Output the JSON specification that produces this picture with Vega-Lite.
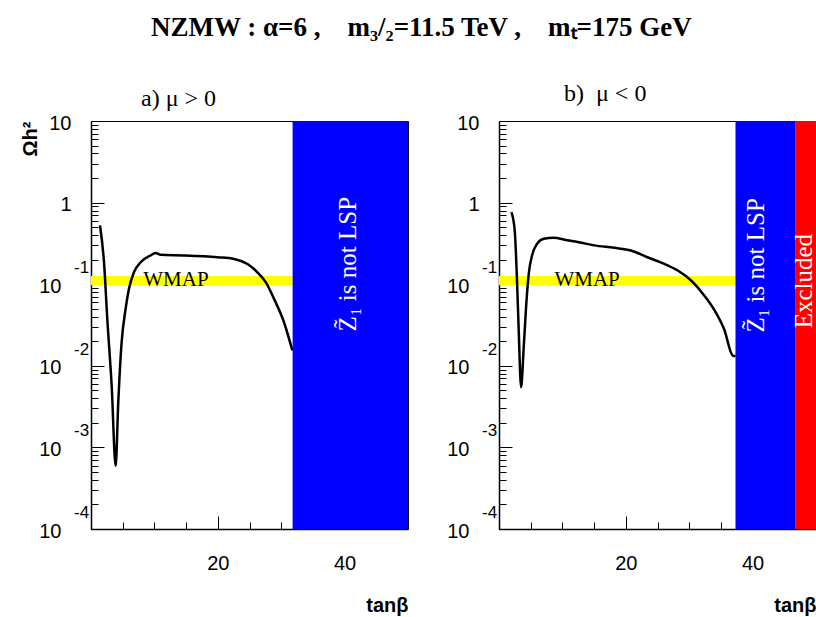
{
  "$schema": "https://vega.github.io/schema/vega-lite/v6.json",
  "padding": {"left": 19, "top": 13, "right": 0, "bottom": 2},
  "title": {
    "text": "NZMW : α=6 ,\u00a0\u00a0\u00a0 m₃/₂=11.5 TeV ,\u00a0\u00a0\u00a0 mₜ=175 GeV",
    "font": "Liberation Serif",
    "fontSize": 27,
    "fontWeight": "bold",
    "color": "#000000",
    "anchor": "start",
    "frame": "group",
    "dx": 60,
    "offset": 19,
    "baseline": "alphabetic"
  },
  "datasets": {
    "curveA": [
      {"tb": 1.42, "om": 0.525}, {"tb": 2.05, "om": 0.186}, {"tb": 2.57, "om": 0.0375},
      {"tb": 3.26, "om": 0.00571}, {"tb": 3.89, "om": 0.000596}, {"tb": 4.3, "om": 0.00356},
      {"tb": 4.83, "om": 0.0194}, {"tb": 5.46, "om": 0.0498}, {"tb": 5.98, "om": 0.0875},
      {"tb": 6.77, "om": 0.14}, {"tb": 7.83, "om": 0.186}, {"tb": 9.4, "om": 0.225},
      {"tb": 10.19, "om": 0.242}, {"tb": 10.98, "om": 0.229}, {"tb": 14.69, "om": 0.225},
      {"tb": 19.95, "om": 0.214}, {"tb": 22.57, "om": 0.204}, {"tb": 24.68, "om": 0.177},
      {"tb": 26.25, "om": 0.14}, {"tb": 27.56, "om": 0.106}, {"tb": 28.87, "om": 0.0661},
      {"tb": 30.44, "om": 0.0342}, {"tb": 31.76, "om": 0.0154}
    ],
    "curveB": [
      {"tb": 1.96, "om": 0.764}, {"tb": 2.48, "om": 0.455}, {"tb": 2.84, "om": 0.111},
      {"tb": 3.11, "om": 0.027}, {"tb": 3.48, "om": 0.00545}, {"tb": 3.9, "om": 0.0169},
      {"tb": 4.27, "om": 0.0522}, {"tb": 4.69, "om": 0.134}, {"tb": 5.21, "om": 0.225},
      {"tb": 6.0, "om": 0.312}, {"tb": 7.06, "om": 0.36}, {"tb": 8.64, "om": 0.37},
      {"tb": 10.49, "om": 0.349}, {"tb": 12.59, "om": 0.327}, {"tb": 15.0, "om": 0.299},
      {"tb": 18.17, "om": 0.279}, {"tb": 20.8, "om": 0.259}, {"tb": 23.4, "om": 0.214},
      {"tb": 26.1, "om": 0.177}, {"tb": 28.2, "om": 0.147}, {"tb": 30.3, "om": 0.111},
      {"tb": 32.4, "om": 0.0724}, {"tb": 34.0, "om": 0.0479}, {"tb": 35.5, "om": 0.0282},
      {"tb": 36.9, "om": 0.0133}, {"tb": 37.3, "om": 0.0132}
    ],
    "wmapA": [{"tb": 0, "tb2": 31.8, "om": 0.097, "om2": 0.126}],
    "wmapB": [{"tb": 0, "tb2": 37.3, "om": 0.097, "om2": 0.126}],
    "zonesA": [{"zone": "notlsp", "tb": 31.8, "tb2": 50, "om": 0.0001, "om2": 10}],
    "zonesB": [
      {"zone": "notlsp", "tb": 37.3, "tb2": 46.7, "om": 0.0001, "om2": 10},
      {"zone": "excluded", "tb": 46.7, "tb2": 50, "om": 0.0001, "om2": 10}
    ],
    "textA": [
      {"kind": "wmap", "tb": 13.4, "om": 0.1, "label": "WMAP"},
      {"kind": "zone", "tb": 40.5, "om": 0.176, "label": "Z̃₁ is not LSP"}
    ],
    "textB": [
      {"kind": "wmap", "tb": 13.9, "om": 0.1, "label": "WMAP"},
      {"kind": "zone", "tb": 40.6, "om": 0.17, "label": "Z̃₁ is not LSP"},
      {"kind": "zone", "tb": 48.1, "om": 0.109, "label": "Excluded"}
    ],
    "expo": [
      {"tb": 0, "om": 0.1, "e": "-1"},
      {"tb": 0, "om": 0.01, "e": "-2"},
      {"tb": 0, "om": 0.001, "e": "-3"},
      {"tb": 0, "om": 0.0001, "e": "-4"}
    ]
  },
  "spacing": 91,
  "bounds": "flush",
  "hconcat": [
    {
      "width": 317,
      "height": 408,
      "title": {"text": "a) μ > 0", "font": "Liberation Serif", "fontSize": 24, "fontWeight": "normal", "color": "#000000", "anchor": "start", "frame": "group", "dx": 50, "offset": -17, "baseline": "alphabetic"},
      "encoding": {
        "x": {
          "field": "tb", "type": "quantitative",
          "scale": {"domain": [0, 50], "nice": false, "zero": false},
          "axis": {
            "values": [5, 10, 15, 20, 25, 30, 35, 40, 45],
            "labelExpr": "datum.value === 20 || datum.value === 40 ? datum.label : ''",
            "tickSize": {"condition": {"test": "datum.value === 20 || datum.value === 40", "value": -13}, "value": -7},
            "labelPadding": 37,
            "title": "tanβ", "titleAnchor": "end", "titleBaseline": "alphabetic", "titleY": 82
          }
        },
        "y": {
          "field": "om", "type": "quantitative",
          "scale": {"type": "log", "domain": [0.0001, 10], "nice": false},
          "axis": {
            "values": [0.0001, 0.0002, 0.0003, 0.0004, 0.0005, 0.0006, 0.0007, 0.0008, 0.0009, 0.001, 0.002, 0.003, 0.004, 0.005, 0.006, 0.007, 0.008, 0.009, 0.01, 0.02, 0.03, 0.04, 0.05, 0.06, 0.07, 0.08, 0.09, 0.1, 0.2, 0.3, 0.4, 0.5, 0.6, 0.7, 0.8, 0.9, 1, 2, 3, 4, 5, 6, 7, 8, 9, 10],
            "labelExpr": "datum.value === 10 ? '10' : datum.value === 1 ? '1' : indexof([0.0001, 0.001, 0.01, 0.1], datum.value) >= 0 ? '10' : ''",
            "tickSize": {"condition": {"test": "indexof([0.0001, 0.001, 0.01, 0.1, 1, 10], datum.value) >= 0", "value": -13}, "value": -7},
            "labelPadding": {"condition": {"test": "datum.value >= 1", "value": 33}, "value": 43},
            "labelOffset": 2,
            "title": "Ωh²", "titleAngle": 270, "titleAnchor": "end", "titleAlign": "right",
            "titleBaseline": "alphabetic", "titleX": -55, "titleY": 0
          }
        }
      },
      "layer": [
        {"data": {"name": "wmapA"}, "mark": {"type": "rect", "color": "#ffff00"}, "encoding": {"x2": {"field": "tb2"}, "y2": {"field": "om2"}}},
        {"data": {"name": "curveA"}, "mark": {"type": "line", "color": "#000000", "strokeWidth": 2.5, "interpolate": "monotone"}, "encoding": {}},
        {"data": {"name": "zonesA"}, "mark": "rect", "encoding": {"x2": {"field": "tb2"}, "y2": {"field": "om2"}, "color": {"field": "zone", "type": "nominal", "scale": {"domain": ["notlsp", "excluded"], "range": ["#0000ff", "#ff0000"]}, "legend": null}}},
        {"data": {"name": "textA"}, "transform": [{"filter": "datum.kind === 'wmap'"}], "mark": {"type": "text", "font": "Liberation Serif", "fontSize": 21, "color": "#000000", "baseline": "alphabetic", "dy": 2}, "encoding": {"text": {"field": "label"}}},
        {"data": {"name": "textA"}, "transform": [{"filter": "datum.kind === 'zone'"}], "mark": {"type": "text", "font": "Liberation Serif", "fontSize": 25, "color": "#ffffff", "angle": 270, "baseline": "middle"}, "encoding": {"text": {"field": "label"}}},
        {"data": {"name": "expo"}, "mark": {"type": "text", "font": "Liberation Sans", "fontSize": 17, "color": "#000000", "align": "left", "baseline": "middle", "dx": -17, "dy": -16}, "encoding": {"text": {"field": "e"}}}
      ]
    },
    {
      "width": 317,
      "height": 408,
      "title": {"text": "b)\u00a0 μ < 0", "font": "Liberation Serif", "fontSize": 24, "fontWeight": "normal", "color": "#000000", "anchor": "start", "frame": "group", "dx": 65, "offset": -12, "baseline": "alphabetic"},
      "encoding": {
        "x": {
          "field": "tb", "type": "quantitative",
          "scale": {"domain": [0, 50], "nice": false, "zero": false},
          "axis": {
            "values": [5, 10, 15, 20, 25, 30, 35, 40, 45],
            "labelExpr": "datum.value === 20 || datum.value === 40 ? datum.label : ''",
            "tickSize": {"condition": {"test": "datum.value === 20 || datum.value === 40", "value": -13}, "value": -7},
            "labelPadding": 37,
            "title": "tanβ", "titleAnchor": "end", "titleBaseline": "alphabetic", "titleY": 82
          }
        },
        "y": {
          "field": "om", "type": "quantitative",
          "scale": {"type": "log", "domain": [0.0001, 10], "nice": false},
          "axis": {
            "values": [0.0001, 0.0002, 0.0003, 0.0004, 0.0005, 0.0006, 0.0007, 0.0008, 0.0009, 0.001, 0.002, 0.003, 0.004, 0.005, 0.006, 0.007, 0.008, 0.009, 0.01, 0.02, 0.03, 0.04, 0.05, 0.06, 0.07, 0.08, 0.09, 0.1, 0.2, 0.3, 0.4, 0.5, 0.6, 0.7, 0.8, 0.9, 1, 2, 3, 4, 5, 6, 7, 8, 9, 10],
            "labelExpr": "datum.value === 10 ? '10' : datum.value === 1 ? '1' : indexof([0.0001, 0.001, 0.01, 0.1], datum.value) >= 0 ? '10' : ''",
            "tickSize": {"condition": {"test": "indexof([0.0001, 0.001, 0.01, 0.1, 1, 10], datum.value) >= 0", "value": -13}, "value": -7},
            "labelPadding": {"condition": {"test": "datum.value >= 1", "value": 33}, "value": 43},
            "labelOffset": 2,
            "title": null
          }
        }
      },
      "layer": [
        {"data": {"name": "wmapB"}, "mark": {"type": "rect", "color": "#ffff00"}, "encoding": {"x2": {"field": "tb2"}, "y2": {"field": "om2"}}},
        {"data": {"name": "curveB"}, "mark": {"type": "line", "color": "#000000", "strokeWidth": 2.5, "interpolate": "monotone"}, "encoding": {}},
        {"data": {"name": "zonesB"}, "mark": "rect", "encoding": {"x2": {"field": "tb2"}, "y2": {"field": "om2"}, "color": {"field": "zone", "type": "nominal", "scale": {"domain": ["notlsp", "excluded"], "range": ["#0000ff", "#ff0000"]}, "legend": null}}},
        {"data": {"name": "textB"}, "transform": [{"filter": "datum.kind === 'wmap'"}], "mark": {"type": "text", "font": "Liberation Serif", "fontSize": 21, "color": "#000000", "baseline": "alphabetic", "dy": 2}, "encoding": {"text": {"field": "label"}}},
        {"data": {"name": "textB"}, "transform": [{"filter": "datum.kind === 'zone'"}], "mark": {"type": "text", "font": "Liberation Serif", "fontSize": 25, "color": "#ffffff", "angle": 270, "baseline": "middle"}, "encoding": {"text": {"field": "label"}}},
        {"data": {"name": "expo"}, "mark": {"type": "text", "font": "Liberation Sans", "fontSize": 17, "color": "#000000", "align": "left", "baseline": "middle", "dx": -17, "dy": -16}, "encoding": {"text": {"field": "e"}}}
      ]
    }
  ],
  "config": {
    "view": {"stroke": "#000000", "strokeWidth": 1},
    "axis": {
      "grid": false,
      "domainColor": "#000000",
      "domainWidth": 1.5,
      "tickColor": "#000000",
      "tickWidth": 1,
      "labelFont": "Liberation Sans",
      "labelFontSize": 20,
      "labelColor": "#000000",
      "labelOverlap": false,
      "labelBound": false,
      "labelFlush": false,
      "titleFont": "Liberation Sans",
      "titleFontSize": 20,
      "titleFontWeight": "bold",
      "titleColor": "#000000"
    }
  }
}
